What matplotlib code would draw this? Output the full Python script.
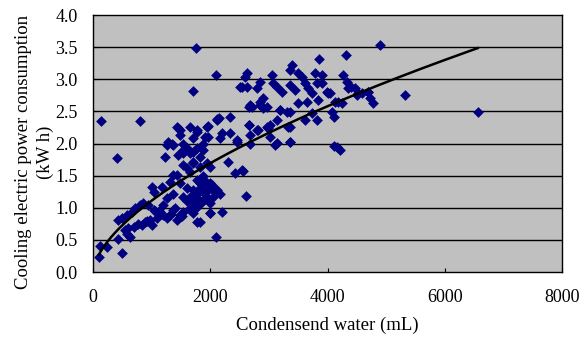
import numpy as np
import matplotlib
matplotlib.use("Agg")
import matplotlib.pyplot as plt

plt.rcParams['font.family'] = ['Liberation Serif', 'DejaVu Serif']

# condensed water (mL) and cooling electric power consumption (kWh)
water = [
    100, 120, 240, 500, 430, 550, 600, 630, 580, 490, 430, 580, 665, 720, 800, 855, 940,
    835, 1000, 970, 1090, 1030, 1140, 1200, 1260, 1310, 1370, 1430, 1480, 1540, 1650,
    1710, 1830, 2000, 1770, 1030, 1175, 1005, 1310, 1370, 1480, 1600, 1710, 1830, 1880,
    1965, 2050, 1650, 1540, 1370, 1260, 1770, 1940, 1860, 2000, 1260, 1350, 1230, 1450,
    1540, 1650, 1770, 1880, 1710, 1830, 1940, 1600, 1480, 1430, 1650, 1770, 1940, 2110,
    2140, 2340, 1960, 2200, 2340, 2170, 2460, 2650, 2680, 2820, 2970, 3020, 3020, 3140,
    3360, 3330, 3310, 3190, 2680, 2850, 2900, 1600, 1540, 1710, 1880, 1830, 1540, 1710,
    2000, 2300, 2420, 2540, 1430, 1650, 1770, 1880, 2000, 2110, 2170, 2050, 1880, 2000,
    2200, 1830, 1650, 1480, 2610, 4320, 3860, 3400, 3360, 2620, 2590, 3050, 3500, 3570,
    3790, 3910, 4270, 2850, 2540, 2620, 2800, 3070, 3140, 3220, 3360, 3450, 3620, 3670,
    3740, 3820, 3910, 3990, 4330, 4390, 4520, 4680, 2900, 2850, 2970, 2710, 3190, 3360,
    3500, 3650, 3840, 4010, 4180, 4080, 2650, 2800, 2990, 3140, 3360, 3620, 3740, 3820,
    3110, 3360, 2680, 4350, 4470, 4500, 4590, 4690, 4730, 4780, 4250, 4130, 4100, 4040,
    2510, 2650, 1450, 1480, 1770, 1960, 2110, 1910, 1710, 1280, 1370, 1540, 2460, 2560,
    140, 800, 1760, 2090, 1710, 404, 2100, 4900, 5320, 6560, 4110, 4215, 4160,
    1800, 1850, 1900, 1950, 1750, 1820, 1920, 1980, 1700, 1880, 2020, 1780, 1860,
    1120, 1200, 1330, 1400, 1520, 1600, 920, 1050, 700, 760, 880,
]
power = [
    0.23, 0.40, 0.39, 0.29, 0.51, 0.65, 0.68, 0.55, 0.60, 0.84, 0.81, 0.89, 0.93, 0.99,
    1.04, 1.07, 1.04, 0.73, 0.73, 0.81, 0.84, 0.97, 0.93, 0.89, 0.84, 0.89, 0.97, 0.81,
    0.86, 0.93, 0.99, 0.92, 1.07, 0.92, 0.78, 1.25, 1.33, 1.33, 1.40, 1.51, 1.38, 1.31,
    1.28, 1.38, 1.43, 1.33, 1.28, 1.17, 1.17, 1.22, 1.15, 1.15, 1.17, 1.09, 1.07, 1.97,
    2.00, 1.79, 1.82, 1.90, 1.85, 1.93, 2.00, 1.71, 1.64, 1.70, 1.62, 2.21, 2.26, 2.26,
    2.18, 2.26, 2.37, 2.40, 2.42, 2.10, 2.16, 2.16, 2.08, 2.05, 2.29, 2.13, 2.21, 2.26,
    2.29, 2.10, 2.01, 2.03, 2.26, 2.49, 2.52, 2.60, 2.60, 2.55, 1.93, 1.85, 1.87, 1.90,
    1.79, 1.66, 1.69, 1.64, 1.71, 1.54, 1.59, 1.51, 1.56, 1.43, 1.33, 1.38, 1.28, 1.22,
    1.17, 1.12, 0.92, 0.93, 0.78, 0.97, 0.89, 1.18, 3.38, 3.31, 3.22, 3.14, 3.09, 3.04,
    3.07, 3.10, 3.04, 3.10, 3.07, 3.07, 2.96, 2.88, 2.88, 2.86, 2.94, 2.88, 2.80, 2.91,
    2.83, 2.94, 2.86, 2.79, 2.94, 2.94, 2.80, 2.96, 2.88, 2.79, 2.80, 2.71, 2.65, 2.57,
    2.57, 2.52, 2.49, 2.63, 2.65, 2.68, 2.78, 2.65, 2.49, 2.29, 2.21, 2.24, 2.37, 2.26,
    2.37, 2.47, 2.37, 1.98, 2.03, 2.00, 2.86, 2.86, 2.75, 2.78, 2.80, 2.71, 2.63, 2.63,
    2.65, 2.41, 2.78, 2.88, 2.57, 2.24, 2.13, 2.21, 2.27, 2.38, 2.10, 2.08, 2.02, 1.97,
    2.00, 2.02, 1.57, 2.35, 2.35, 3.48, 3.06, 2.81, 1.77, 0.55, 3.54, 2.75, 2.49, 1.96,
    1.90, 1.94, 1.30, 1.42, 1.25, 1.35, 1.20, 1.45, 1.40, 1.30, 1.10, 1.50, 1.36, 1.02,
    1.26, 0.95, 1.05, 0.90, 1.00, 0.88, 1.10, 0.80, 0.95, 0.70, 0.75, 0.78,
]

x_ticks = [0, 2000, 4000, 6000, 8000]
y_ticks = [0.0, 0.5, 1.0, 1.5, 2.0, 2.5, 3.0, 3.5, 4.0]

water = np.array(water, dtype=float)
power = np.array(power, dtype=float)

# power-law trend line, as the spreadsheet draws it
b, ln_a = np.polyfit(np.log(water), np.log(power), 1)
xs = np.linspace(water.min(), water.max(), 200)
ys = np.exp(ln_a) * xs ** b

fig = plt.figure(figsize=(5.82, 3.41), dpi=100)
ax = fig.add_axes([0.160, 0.202, 0.806, 0.754])
ax.set_facecolor('#c0c0c0')

for yv in y_ticks[1:-1]:
    ax.axhline(yv, color='black', lw=1.0, zorder=1)

ax.scatter(water, power, marker='D', s=30, color='#000080', linewidths=0, zorder=3)
ax.plot(xs, ys, color='black', lw=1.8, zorder=4)

ax.set_xlim(0, 8000)
ax.set_ylim(0, 4.0)
ax.set_xticks(x_ticks)
ax.set_yticks(y_ticks)
ax.set_yticklabels(['%.1f' % v for v in y_ticks])
ax.tick_params(axis='x', direction='in', length=3, labelsize=13, pad=12)
ax.tick_params(axis='y', direction='in', length=3, labelsize=13, pad=11)
for s in ax.spines.values():
    s.set_color('black')
    s.set_linewidth(1.0)

ax.set_xlabel('Condensend water (mL)', fontsize=13.5, labelpad=8)
ax.set_ylabel('Cooling electric power consumption\n(kW h)', fontsize=13.5,
              linespacing=1.35)
ax.yaxis.set_label_coords(-0.083, 0.467)

fig.savefig('out.png', dpi=100, facecolor='white')
